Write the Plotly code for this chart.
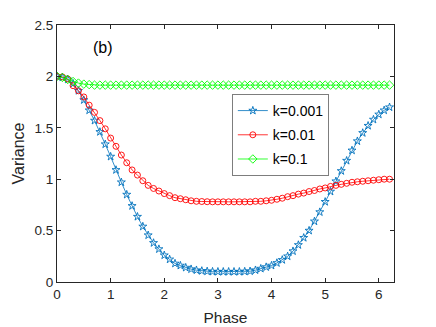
import plotly.graph_objects as go

phase = [round(0.1 * i, 1) for i in range(63)]

var_k0001 = [2.0, 1.99, 1.97, 1.93, 1.86, 1.77, 1.67, 1.57, 1.46, 1.34,
             1.22, 1.09, 0.97, 0.85, 0.74, 0.635, 0.54, 0.455, 0.38, 0.32,
             0.26, 0.22, 0.18, 0.16, 0.14, 0.125, 0.115, 0.108, 0.104, 0.101,
             0.1, 0.1, 0.1, 0.1, 0.1, 0.102, 0.105, 0.115, 0.13, 0.145,
             0.16, 0.185, 0.215, 0.25, 0.3, 0.36, 0.43, 0.5, 0.59, 0.68,
             0.78, 0.88, 0.98, 1.08, 1.18, 1.28, 1.37, 1.45, 1.52, 1.58,
             1.63, 1.67, 1.70]

var_k001 = [2.0, 1.995, 1.975, 1.91, 1.86, 1.80, 1.72, 1.65, 1.57, 1.49,
            1.40, 1.32, 1.235, 1.16, 1.09, 1.04, 0.985, 0.94, 0.91, 0.885,
            0.86, 0.84, 0.82, 0.81, 0.80, 0.79, 0.785, 0.783, 0.781, 0.78,
            0.78, 0.78, 0.78, 0.78, 0.78, 0.78, 0.78, 0.785, 0.785, 0.79,
            0.795, 0.805, 0.815, 0.83, 0.84, 0.855, 0.865, 0.88, 0.89, 0.905,
            0.915, 0.93, 0.94, 0.95, 0.96, 0.97, 0.975, 0.98, 0.985, 0.99,
            0.995, 1.0, 1.0]

var_k01 = [2.0, 1.99, 1.97, 1.95, 1.935, 1.925, 1.92] + [1.915] * 56

series = [
    ("k=0.001", var_k0001, "#0072BD", "star-open", 6),
    ("k=0.01", var_k001, "#FF0000", "circle-open", 6),
    ("k=0.1", var_k01, "#00FF00", "diamond-open", 6.5),
]

fig = go.Figure()
for i, (name, ys, color, sym, sz) in enumerate(series):
    fig.add_trace(go.Scatter(
        x=phase, y=ys, name=name, mode="lines+markers", legendgroup=f"g{i}",
        line=dict(color=color, width=0.8),
        marker=dict(symbol=sym, size=sz, color=color, line=dict(width=0.9, color=color)),
    ))

axis_common = dict(
    showline=True, linecolor="#262626", linewidth=1, mirror="ticks",
    ticks="inside", ticklen=4, tickcolor="#262626", showgrid=False, zeroline=False,
    automargin=False,
    tickfont=dict(family="Liberation Sans, Arial", size=13.5, color="#262626"),
)

fig.update_layout(
    width=436, height=327,
    margin=dict(l=57, r=42, t=25, b=45),
    paper_bgcolor="white", plot_bgcolor="white",
    font=dict(family="Liberation Sans, Arial", color="#262626"),
    xaxis=dict(range=[0, 6.2832], tickvals=[0, 1, 2, 3, 4, 5, 6],
               title=dict(text="Phase", font=dict(size=15.5), standoff=10), **axis_common),
    yaxis=dict(range=[0, 2.5], tickvals=[0, 0.5, 1, 1.5, 2, 2.5],
               ticktext=["0", "0.5", "1", "1.5", "2", "2.5"],
               title=dict(text="Variance", font=dict(size=16), standoff=5), **axis_common),
    legend=dict(x=0.52, y=0.730, xanchor="left", yanchor="top",
                bordercolor="#262626", borderwidth=0.6, bgcolor="white",
                font=dict(size=14, color="black"), itemwidth=30, tracegroupgap=3),
    annotations=[dict(x=0.85, y=2.28, xref="x", yref="y", text="(b)", showarrow=False,
                      font=dict(size=16, color="black"))],
    showlegend=True,
)

fig.write_html("out.html", post_script="document.body.style.margin='0';",
               config={"displayModeBar": False})
